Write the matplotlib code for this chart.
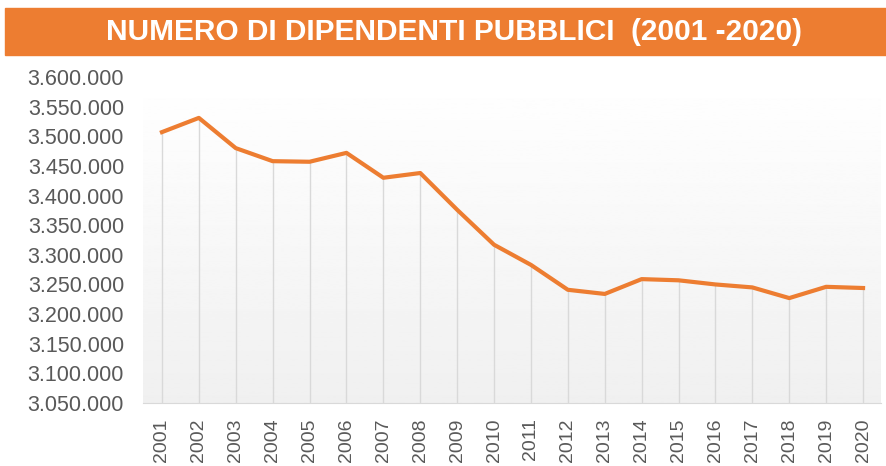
import numpy as np
import matplotlib
matplotlib.use("Agg")
import matplotlib.pyplot as plt
from matplotlib.patches import Rectangle
from matplotlib.ticker import FuncFormatter

years = [str(y) for y in range(2001, 2021)]
dipendenti = [3507000, 3531000, 3480000, 3458000, 3457000, 3472000, 3430000,
              3438000, 3376000, 3317000, 3283000, 3241000, 3234000, 3259000,
              3257000, 3250000, 3245000, 3227000, 3246000, 3244000]
title = "NUMERO DI DIPENDENTI PUBBLICI  (2001 -2020)"

orange = "#ED7D31"
grey_txt = "#595959"

fig = plt.figure(figsize=(8.87, 4.66), dpi=100)
fig.patch.set_facecolor("white")

# title banner
fig.patches.append(Rectangle((5 / 887, 1 - 55 / 466), 1, 47 / 466,
                             transform=fig.transFigure, color=orange, zorder=0))
fig.text(454 / 887, 1 - 32 / 466, title, color="white", ha="center", va="center",
         fontsize=21.5, fontweight="bold",
         family=["Liberation Sans Narrow", "Liberation Sans", "DejaVu Sans"])

ax = fig.add_axes([143.5 / 887, 1 - 403 / 466, 738 / 887, 326 / 466])
x = np.arange(len(years))
ax.set_xlim(-0.5, len(years) - 0.5)
ax.set_ylim(3050000, 3600000)

# soft gradient background
grad = np.linspace(1.0, 0.94, 256).reshape(-1, 1)
ax.imshow(grad, cmap="gray", vmin=0, vmax=1, aspect="auto",
          extent=(-0.5, len(years) - 0.5, 3050000, 3600000), zorder=0)

# drop lines
ax.vlines(x, 3050000, dipendenti, color="#D9D9D9", lw=1, zorder=1)
ax.plot(x, dipendenti, color=orange, lw=3, solid_joinstyle="round", zorder=3)

ax.set_yticks(np.arange(3050000, 3600001, 50000))
ax.yaxis.set_major_formatter(FuncFormatter(lambda v, p: f"{int(v):,}".replace(",", ".")))
ax.set_xticks(x)
ax.set_xticklabels(years, rotation=90)

for s in ["top", "right", "left"]:
    ax.spines[s].set_visible(False)
ax.spines["bottom"].set_color("#D9D9D9")
ax.tick_params(axis="both", length=0, colors=grey_txt, labelsize=14)
ax.tick_params(axis="y", labelsize=15.5, pad=14)
ax.tick_params(axis="x", pad=11)
for lab in ax.get_xticklabels() + ax.get_yticklabels():
    lab.set_family(["Liberation Sans", "DejaVu Sans"])

fig.savefig("out.png", dpi=100)
